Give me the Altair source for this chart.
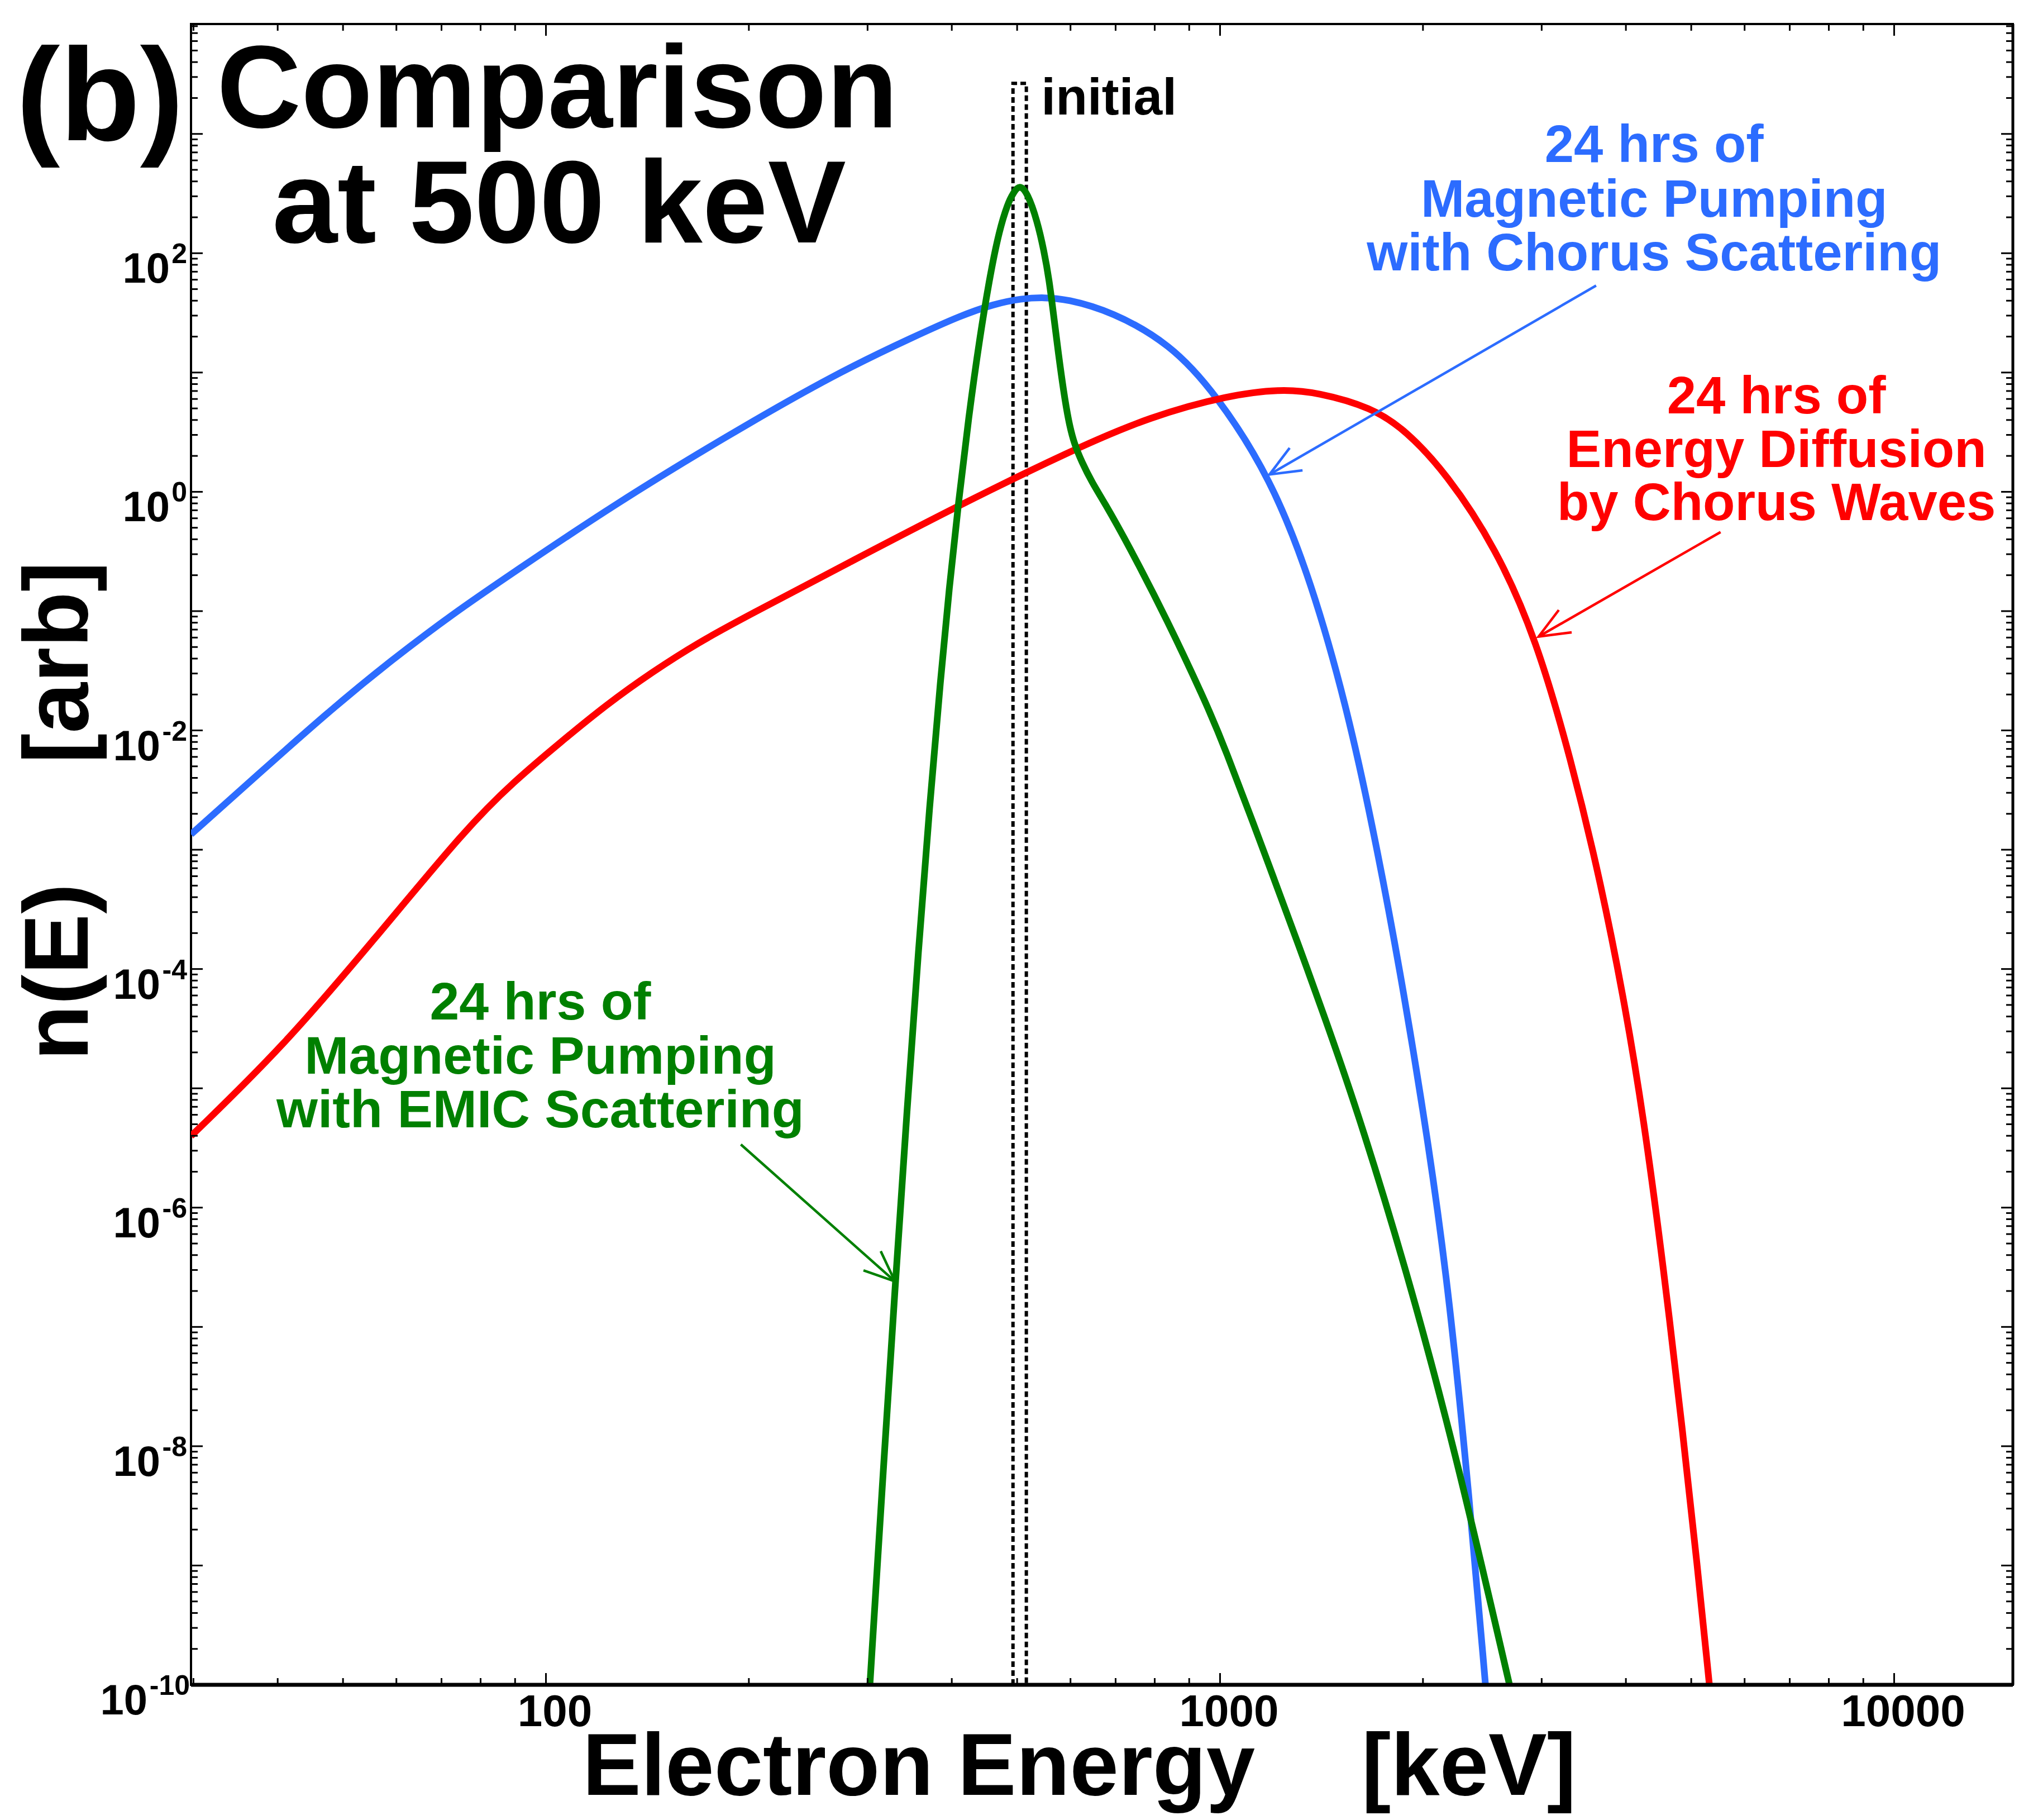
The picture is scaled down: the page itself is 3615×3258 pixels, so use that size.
import altair as alt
import pandas as pd

FONT = "Liberation Sans"

# ---------------- data ----------------
# Electron energy [keV] and n(E) [arb]
blue_E = [29.75, 37.62, 47.64, 58.88, 72.62, 89.55, 126.2, 184.9, 270.6, 353.5, 411.7,
          461.6, 507.7, 548.1, 591.6, 690.2, 843.4, 984.0, 1188.5, 1368.7, 1540.3,
          1678.4, 1846.6, 2046.4, 2188.0, 2343.1, 2476]
blue_n = [1.345e-3, 4.406e-3, 1.443e-2, 3.85e-2, 9.42e-2, 0.2116, 0.780, 2.909, 9.95,
          20.27, 29.88, 37.48, 41.75, 42.66, 41.29, 32.58, 17.42, 6.745, 1.324, 0.1706,
          1.590e-2, 1.743e-3, 1.055e-4, 3.004e-6, 1.82e-7, 3.75e-9, 1e-10]

red_E = [29.75, 40.68, 55.83, 76.43, 89.55, 104.9, 122.9, 143.9, 168.7, 197.6, 281.2,
         403.9, 604.0, 788.9, 1030.2, 1232.6, 1395.2, 1678.4, 1882.1, 2167.5, 2568.0,
         2946, 3315, 3675, 3996, 4248, 4550, 4864, 5102, 5320]
red_n = [3.977e-6, 2.210e-5, 1.810e-4, 1.548e-3, 3.708e-3, 7.89e-3, 1.642e-2, 3.102e-2,
         5.495e-2, 8.93e-2, 0.2542, 0.7395, 2.246, 4.289, 6.461, 7.274, 6.820, 5.097,
         3.311, 1.427, 0.3364, 5.80e-2, 5.77e-3, 5.21e-4, 4.70e-5, 5.74e-6, 3.12e-7,
         1.227e-8, 1.03e-9, 1e-10]

green_E = [302.4, 315.3, 329.4, 343.5, 356.9, 370.8, 385.2, 396.4, 409.4, 423.6, 440.1,
           456.4, 470.5, 484.2, 493.5, 504.0, 517.6, 535.6, 548.1, 557.6, 567.1, 575.9,
           585.8, 596.0, 607.5, 623.8, 645.7, 672.1, 728.3, 838.6, 945.6, 1007,
           1195.5, 1315, 1416.5, 1585.8, 1878.5, 2226, 2688]
green_n = [1e-10, 4.45e-9, 2.07e-7, 6.97e-6, 1.428e-4, 2.358e-3, 2.816e-2, 0.1548,
           0.8326, 4.198, 19.84, 67.83, 155.6, 261.2, 320.4, 376.0, 323.9, 186.9, 104.4,
           60.88, 28.62, 14.20, 7.043, 3.892, 2.528, 1.771, 1.201, 0.8326, 0.3749,
           8.02e-2, 1.869e-2, 8.32e-3, 6.26e-4, 1.459e-4, 4.55e-5, 7.51e-6, 3.40e-7,
           9.89e-9, 1e-10]

init_E = [493, 493, 516, 516]
init_n = [1e-10, 2650, 2650, 1e-10]

# annotation anchors (data coordinates)
blue_lines = ["24 hrs of", "Magnetic Pumping", "with Chorus Scattering"]
blue_lab_E = [4405, 4405, 4405]
blue_lab_n = [580, 201.6, 71.6]
red_lines = ["24 hrs of", "Energy Diffusion", "by Chorus Waves"]
red_lab_E = [6688, 6688, 6688]
red_lab_n = [4.526, 1.607, 0.577]
green_lines = ["24 hrs of", "Magnetic Pumping", "with EMIC Scattering"]
green_lab_E = [98.1, 98.1, 98.1]
green_lab_n = [3.79e-5, 1.33e-5, 4.72e-6]

# arrows: start (E, n) -> tip (E2, n2)
blue_arrow = [3613, 53.5, 1184, 1.397]
red_arrow = [5527, 0.460, 2969, 0.0612]
green_arrow = [194.6, 3.38e-6, 329.4, 2.41e-7]

x_tick_labels = [100, 1000, 10000]
y_label_exps_a = [2, 0]
y_label_exps_b = [-2, -4, -6, -8]
y_label_exps_c = [-10]

XDOM = [29.75, 15000]
YDOM = [1e-10, 8340]
x_major = [v for v in [10, 100, 1000, 10000] if XDOM[0] < v < XDOM[1]]
x_minor = [d * 10 ** e for e in range(1, 5) for d in range(2, 10) if XDOM[0] < d * 10 ** e < XDOM[1]]
y_major = [10.0 ** e for e in range(-9, 4)]
y_minor = [d * 10.0 ** e for e in range(-10, 4) for d in range(2, 10) if d * 10.0 ** e < YDOM[1]]

BLUE = "#2c6cff"
RED = "#ff0000"
GREEN = "#008000"

W, H = 3262, 2973

xs = alt.Scale(type="log", domain=XDOM, nice=False)
ys = alt.Scale(type="log", domain=YDOM, nice=False)


def X(f):
    return alt.X(f, type="quantitative", scale=xs, axis=None)


def Y(f):
    return alt.Y(f, type="quantitative", scale=ys, axis=None)


one = pd.DataFrame({"a": [0]})
layers = []


def curve(E, n, color, width=12, dash=None, interp="basis"):
    df = pd.DataFrame({"E": E, "n": n, "i": list(range(len(E)))})
    kw = dict(color=color, strokeWidth=width, clip=True, interpolate=interp)
    if dash:
        kw["strokeDash"] = dash
    return alt.Chart(df).mark_line(**kw).encode(x=X("E"), y=Y("n"), order=alt.Order("i:Q"))


# initial dashed box
layers.append(curve(init_E, init_n, "black", width=6, dash=[10, 6], interp="linear"))
layers.append(curve(blue_E, blue_n, BLUE))
layers.append(curve(red_E, red_n, RED))
layers.append(curve(green_E, green_n, GREEN))


# ticks (inward) on all four sides
def xticks(vals, length):
    df = pd.DataFrame({"v": vals})
    bot = alt.Chart(df).mark_rule(color="black", strokeWidth=3).encode(
        x=X("v"), y=alt.value(H), y2=alt.value(H - length))
    top = alt.Chart(df).mark_rule(color="black", strokeWidth=3).encode(
        x=X("v"), y=alt.value(0), y2=alt.value(length))
    return [bot, top]


def yticks(vals, length):
    df = pd.DataFrame({"v": vals})
    lft = alt.Chart(df).mark_rule(color="black", strokeWidth=3).encode(
        y=Y("v"), x=alt.value(0), x2=alt.value(length))
    rgt = alt.Chart(df).mark_rule(color="black", strokeWidth=3).encode(
        y=Y("v"), x=alt.value(W), x2=alt.value(W - length))
    return [lft, rgt]


layers += xticks(x_major, 21) + xticks(x_minor, 12)
layers += yticks(y_major, 21) + yticks(y_minor, 12)

# frame thickening (bottom / right)
layers.append(alt.Chart(one).mark_rule(color="black", strokeWidth=7).encode(
    x=alt.value(0), x2=alt.value(W), y=alt.value(H)))
layers.append(alt.Chart(one).mark_rule(color="black", strokeWidth=5).encode(
    x=alt.value(W), y=alt.value(0), y2=alt.value(H)))

# x tick labels
layers.append(alt.Chart(pd.DataFrame({"v": x_tick_labels, "t": [str(v) for v in x_tick_labels]}))
              .mark_text(font=FONT, fontSize=80, fontWeight="bold", align="center",
                         baseline="alphabetic", dx=16, color="black")
              .encode(x=X("v"), y=alt.value(H + 74), text="t:N"))


# y tick labels "10" with superscript exponent
def ylabels(exps, sup_right, base_right):
    df = pd.DataFrame({"v": [10.0 ** k for k in exps], "s": [str(k) for k in exps]})
    base = alt.Chart(df).mark_text(font=FONT, fontSize=76, fontWeight="bold", align="right",
                                   baseline="alphabetic", dy=53, color="black").encode(
        y=Y("v"), x=alt.value(base_right), text=alt.value("10"))
    sup = alt.Chart(df).mark_text(font=FONT, fontSize=50, fontWeight="bold", align="right",
                                  baseline="alphabetic", dy=18, color="black").encode(
        y=Y("v"), x=alt.value(sup_right), text="s:N")
    return [base, sup]


layers += ylabels(y_label_exps_a, -7, -38)
layers += ylabels(y_label_exps_b, -7, -55)
layers += ylabels(y_label_exps_c, -2, -78)


# annotation texts in data coordinates
def annot(lines, E, n, color, size=94, align="center"):
    df = pd.DataFrame({"t": lines, "E": E, "n": n})
    return alt.Chart(df).mark_text(font=FONT, fontSize=size, fontWeight="bold", align=align,
                                   baseline="alphabetic", color=color).encode(
        x=X("E"), y=Y("n"), text="t:N")


layers.append(annot(["initial"], [542.9], [1451], "black", size=93, align="left"))
layers.append(annot(blue_lines, blue_lab_E, blue_lab_n, BLUE))
layers.append(annot(red_lines, red_lab_E, red_lab_n, RED))
layers.append(annot(green_lines, green_lab_E, green_lab_n, GREEN, size=95))


# arrows
def arrow(a, color, angle):
    df = pd.DataFrame({"E": [a[0]], "n": [a[1]], "E2": [a[2]], "n2": [a[3]]})
    shaft = alt.Chart(df).mark_rule(color=color, strokeWidth=4.5).encode(
        x=X("E"), y=Y("n"), x2=alt.X2("E2"), y2=alt.Y2("n2"))
    head = alt.Chart(df).mark_point(shape="M -1 -0.42 L 0 0 L -1 0.42", filled=False,
                                    color=color, strokeWidth=4.5, size=12100, angle=angle,
                                    opacity=1).encode(x=X("E2"), y=Y("n2"))
    return [shaft, head]


layers += arrow(blue_arrow, BLUE, 150)
layers += arrow(red_arrow, RED, 150)
layers += arrow(green_arrow, GREEN, 42)


# titles (pixel placed)
def ptext(t, x, y, size, align="center", angle=0):
    kw = dict(font=FONT, fontSize=size, fontWeight="bold", align=align,
              baseline="alphabetic", color="black")
    if angle:
        kw["angle"] = angle
    return alt.Chart(one).mark_text(**kw).encode(
        x=alt.value(x), y=alt.value(y), text=alt.value(t))


layers.append(ptext("(b)", -163, 208, 235))
layers.append(ptext("Comparison", 656, 185, 209))
layers.append(ptext("at 500 keV", 659, 391, 210))
layers.append(ptext("Electron Energy", 1303, H + 197, 157))
layers.append(ptext("[keV]", 2288, H + 197, 157))
layers.append(ptext("n(E)", -185, 1697, 163, angle=270))
layers.append(ptext("[arb]", -185, 1143, 163, angle=270))

chart = alt.layer(*layers).properties(
    width=W, height=H,
    padding={"left": 334, "top": 35, "right": 3, "bottom": 234},
    autosize=alt.AutoSizeParams(type="none"),
    background="white",
).configure_view(stroke="black", strokeWidth=4)

chart.save("out.html", embed_options={"renderer": "svg", "actions": False})
